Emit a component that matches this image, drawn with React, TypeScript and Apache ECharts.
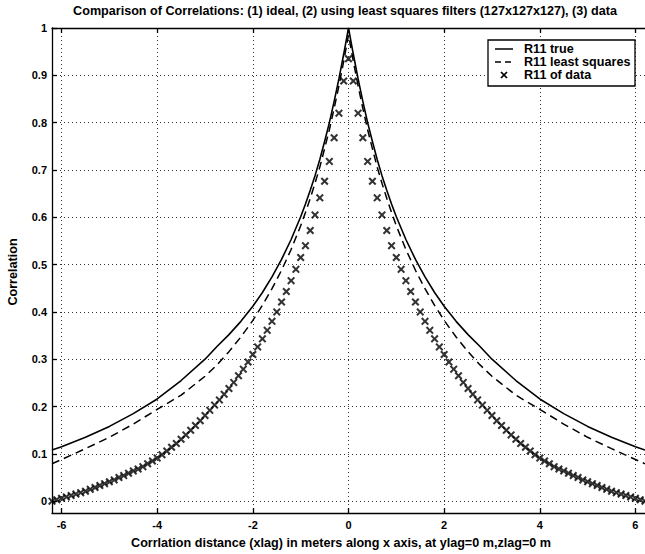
import React, { useEffect, useRef } from "react";
import * as echarts from "echarts";

// x lags (m) for the smooth curves, positive side (mirrored for negative side)
const curveLags = [0, 0.1, 0.2, 0.3, 0.4, 0.5, 0.6, 0.7, 0.8, 0.9, 1.0, 1.2, 1.4, 1.6, 1.8, 2.0, 2.25, 2.5, 2.75, 3.0, 3.5, 4.0, 4.5, 5.0, 5.5, 6.0, 6.2];
const trueValues = [1.0, 0.945, 0.893, 0.845, 0.8, 0.76, 0.722, 0.688, 0.657, 0.628, 0.601, 0.553, 0.511, 0.474, 0.441, 0.412, 0.38, 0.352, 0.327, 0.3, 0.255, 0.216, 0.185, 0.158, 0.135, 0.115, 0.108];
const lsValues = [0.985, 0.93, 0.878, 0.83, 0.785, 0.745, 0.706, 0.672, 0.64, 0.61, 0.582, 0.532, 0.488, 0.449, 0.414, 0.382, 0.347, 0.316, 0.288, 0.264, 0.224, 0.194, 0.163, 0.135, 0.111, 0.088, 0.079];

// data points at lags 0, 0.1, ..., 6.2 (positive side, mirrored)
const dataLags = [0, 0.1, 0.2, 0.3, 0.4, 0.5, 0.6, 0.7, 0.8, 0.9, 1.0, 1.1, 1.2, 1.3, 1.4, 1.5, 1.6, 1.7, 1.8, 1.9, 2.0, 2.1, 2.2, 2.3, 2.4, 2.5, 2.6, 2.7, 2.8, 2.9, 3.0, 3.1, 3.2, 3.3, 3.4, 3.5, 3.6, 3.7, 3.8, 3.9, 4.0, 4.1, 4.2, 4.3, 4.4, 4.5, 4.6, 4.7, 4.8, 4.9, 5.0, 5.1, 5.2, 5.3, 5.4, 5.5, 5.6, 5.7, 5.8, 5.9, 6.0, 6.1, 6.2];
const dataValues = [0.935, 0.888, 0.82, 0.768, 0.718, 0.676, 0.641, 0.605, 0.572, 0.54, 0.515, 0.49, 0.466, 0.443, 0.421, 0.4, 0.38, 0.361, 0.343, 0.326, 0.31, 0.294, 0.279, 0.265, 0.251, 0.238, 0.226, 0.214, 0.203, 0.192, 0.181, 0.17, 0.16, 0.15, 0.14, 0.131, 0.122, 0.114, 0.106, 0.098, 0.091, 0.085, 0.079, 0.073, 0.068, 0.064, 0.059, 0.054, 0.05, 0.045, 0.041, 0.037, 0.033, 0.029, 0.025, 0.021, 0.018, 0.015, 0.012, 0.009, 0.006, 0.003, 0.0];

const xTickValues = [-6, -4, -2, 0, 2, 4, 6];
const yTickValues = [0, 0.1, 0.2, 0.3, 0.4, 0.5, 0.6, 0.7, 0.8, 0.9, 1];

const titleText = "Comparison of Correlations: (1) ideal, (2) using least squares filters (127x127x127), (3) data";
const xName = "Corrlation distance (xlag) in meters along x axis, at ylag=0 m,zlag=0 m";
const yName = "Correlation";
const legendNames = ["R11 true", "R11 least squares", "R11 of data"];

function mirror(lags: number[], vals: number[]): number[][] {
  const out: number[][] = [];
  for (let i = lags.length - 1; i > 0; i--) out.push([-lags[i], vals[i]]);
  for (let i = 0; i < lags.length; i++) out.push([lags[i], vals[i]]);
  return out;
}

const FONT = "'Liberation Sans', Arial, Helvetica, sans-serif";
const CROSS = "path://M0,1.8L1.8,0L5,3.2L8.2,0L10,1.8L6.8,5L10,8.2L8.2,10L5,6.8L1.8,10L0,8.2L3.2,5Z";
const TXT = `bold 12.6px ${FONT}`;

export default function App() {
  const ref = useRef<HTMLDivElement>(null);
  useEffect(() => {
    if (!ref.current) return;
    const chart = echarts.init(ref.current, undefined, { renderer: "svg" });
    const gridLine = { show: true, lineStyle: { color: "#333", width: 1, type: [1, 3] as any } };
    const tickLabel = { color: "#000", fontSize: 11, fontWeight: "bold", fontFamily: FONT };
    const option: any = {
      animation: false,
      backgroundColor: "#fff",
      textStyle: { fontFamily: FONT },
      grid: { left: 52, top: 28, width: 593, height: 485, containLabel: false },
      xAxis: [
        {
          type: "value",
          min: -6.2,
          max: 6.2,
          position: "bottom",
          axisLine: { show: true, onZero: false, lineStyle: { color: "#000", width: 1.3 } },
          axisTick: { show: true, inside: true, length: 5, customValues: xTickValues, lineStyle: { color: "#000", width: 1.3 } },
          axisLabel: { customValues: xTickValues, margin: 6, ...tickLabel },
          splitLine: gridLine,
        },
        {
          type: "value",
          min: -6.2,
          max: 6.2,
          position: "top",
          axisLine: { show: true, onZero: false, lineStyle: { color: "#000", width: 1.3 } },
          axisTick: { show: true, inside: true, length: 5, customValues: xTickValues, lineStyle: { color: "#000", width: 1.3 } },
          axisLabel: { show: false },
          splitLine: { show: false },
        },
      ],
      yAxis: [
        {
          type: "value",
          min: -0.025,
          max: 1,
          axisLine: { show: true, onZero: false, lineStyle: { color: "#000", width: 1.3 } },
          axisTick: { show: true, inside: true, length: 5, customValues: yTickValues, lineStyle: { color: "#000", width: 1.3 } },
          axisLabel: { customValues: yTickValues, margin: 5, ...tickLabel, formatter: (v: number) => String(Math.round(v * 10) / 10) },
          splitLine: gridLine,
        },
      ],
      series: [
        {
          name: legendNames[0],
          type: "line",
          data: mirror(curveLags, trueValues),
          showSymbol: false,
          symbol: "none",
          lineStyle: { color: "#000", width: 1.6 },
          z: 3,
        },
        {
          name: legendNames[1],
          type: "line",
          data: mirror(curveLags, lsValues),
          showSymbol: false,
          symbol: "none",
          lineStyle: { color: "#000", width: 1.5, type: [8, 5] },
          z: 3,
        },
        {
          name: legendNames[2],
          type: "scatter",
          data: mirror(dataLags, dataValues),
          symbol: CROSS,
          symbolSize: 8,
          itemStyle: { color: "#000" },
          z: 4,
        },
      ],
      graphic: [
        { type: "text", x: 345, y: 11, style: { text: titleText, font: TXT, fill: "#000", align: "center", verticalAlign: "middle" }, z: 10 },
        { type: "text", x: 341, y: 543, style: { text: xName, font: TXT, fill: "#000", align: "center", verticalAlign: "middle" }, z: 10 },
        { type: "text", x: 13, y: 272, rotation: Math.PI / 2, style: { text: yName, font: TXT, fill: "#000", align: "center", verticalAlign: "middle" }, z: 10 },
        { type: "rect", z: 20, shape: { x: 488, y: 40, width: 147, height: 46 }, style: { fill: "#fff", stroke: "#000", lineWidth: 1.3 } },
        { type: "line", z: 21, shape: { x1: 495, y1: 49, x2: 513, y2: 49 }, style: { stroke: "#000", lineWidth: 1.5 } },
        { type: "line", z: 21, shape: { x1: 495, y1: 62, x2: 513, y2: 62 }, style: { stroke: "#000", lineWidth: 1.5, lineDash: [6, 4] } },
        { type: "line", z: 21, shape: { x1: 501, y1: 72, x2: 507, y2: 78 }, style: { stroke: "#000", lineWidth: 1.7 } },
        { type: "line", z: 21, shape: { x1: 507, y1: 72, x2: 501, y2: 78 }, style: { stroke: "#000", lineWidth: 1.7 } },
        { type: "text", z: 21, x: 524, y: 49, style: { text: legendNames[0], font: TXT, fill: "#000", verticalAlign: "middle" } },
        { type: "text", z: 21, x: 524, y: 62, style: { text: legendNames[1], font: TXT, fill: "#000", verticalAlign: "middle" } },
        { type: "text", z: 21, x: 524, y: 75, style: { text: legendNames[2], font: TXT, fill: "#000", verticalAlign: "middle" } },
      ],
    };
    chart.setOption(option);
    return () => chart.dispose();
  }, []);
  return <div ref={ref} style={{ position: "fixed", left: 0, top: 0, width: 645, height: 554 }} />;
}
